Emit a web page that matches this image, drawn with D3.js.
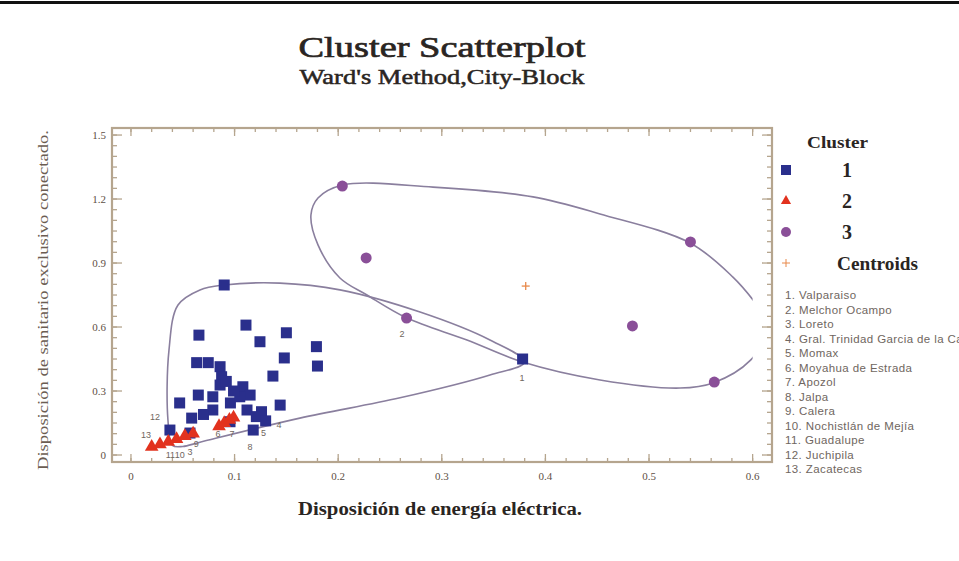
<!DOCTYPE html>
<html><head><meta charset="utf-8">
<script src="https://cdn.jsdelivr.net/npm/d3@7"></script>
<style>body{margin:0;background:#fff}svg{display:block}</style>
</head><body>
<svg id="c" width="959" height="561"></svg>
<script>
// ---- data ----
const cluster1 = [
  [0.378,0.450],[0.090,0.797],[0.111,0.609],[0.150,0.573],[0.0656,0.562],[0.1245,0.531],
  [0.179,0.508],[0.148,0.455],[0.180,0.417],[0.0634,0.433],[0.0746,0.433],[0.086,0.414],
  [0.0875,0.367],[0.137,0.370],[0.086,0.328],[0.108,0.320],[0.065,0.281],[0.079,0.273],
  [0.115,0.281],[0.144,0.234],[0.047,0.244],[0.0586,0.173],[0.079,0.211],[0.096,0.244],
  [0.105,0.273],[0.112,0.211],[0.126,0.203],[0.121,0.180],[0.0956,0.156],[0.118,0.117],
  [0.0376,0.117],[0.057,0.103],[0.099,0.300],[0.092,0.345],[0.070,0.190],[0.130,0.160]
];
const cluster2 = [
  [0.020,0.038],[0.028,0.050],[0.036,0.062],[0.044,0.075],[0.052,0.089],[0.060,0.100],
  [0.085,0.135],[0.090,0.150],[0.095,0.165],[0.099,0.175]
];
const cluster3 = [
  [0.204,1.261],[0.227,0.924],[0.266,0.642],[0.540,0.999],[0.484,0.605],[0.563,0.342]
];
const centroids = [[0.381,0.792]];
const contour1 = [
  [0.040,0.045],[0.0357,0.164],[0.0367,0.492],[0.0454,0.703],[0.0666,0.774],[0.0898,0.797],
  [0.1438,0.806],[0.2017,0.774],[0.279,0.670],[0.3465,0.539],[0.380,0.436],[0.3465,0.375],
  [0.2597,0.268],[0.163,0.173],[0.0666,0.060],[0.050,0.040]
];
const contour3 = [
  [0.2046,1.266],[0.1805,1.205],[0.1737,1.125],[0.1805,0.985],[0.2017,0.830],[0.2278,0.750],
  [0.2664,0.642],[0.3243,0.539],[0.378,0.436],[0.4527,0.352],[0.530,0.314],[0.5618,0.338],
  [0.598,0.445],[0.617,0.609],[0.6004,0.727],[0.581,0.834],[0.5396,0.994],[0.4527,1.130],
  [0.388,1.210],[0.2915,1.256]
];
const pointLabels = [
  ["1",0.3774,0.361],["2",0.2616,0.567],["12",0.0232,0.178],["13",0.0145,0.094],
  ["11",0.038,0.002],["10",0.047,0.002],["3",0.057,0.012],["9",0.063,0.050],
  ["6",0.084,0.098],["7",0.0975,0.098],["8",0.115,0.037],["5",0.128,0.103],["4",0.143,0.140]
];
const xTicks = [0,0.1,0.2,0.3,0.4,0.5,0.6];
const yTicks = [0,0.3,0.6,0.9,1.2,1.5];
const legendItems = ["1","2","3","Centroids"];
const municipios = ["1. Valparaiso","2. Melchor Ocampo","3. Loreto","4. Gral. Trinidad Garcia de la Cadena",
  "5. Momax","6. Moyahua de Estrada","7. Apozol","8. Jalpa","9. Calera","10. Nochistlán de Mejía",
  "11. Guadalupe","12. Juchipila","13. Zacatecas"];

// ---- layout ----
const svg = d3.select("#c");
const L=112,R=772,T=128,B=462;
const x = d3.scaleLinear().domain([-0.0183,0.6187]).range([L,R]);
const y = d3.scaleLinear().domain([-0.0328,1.533]).range([B,T]);
const frameCol="#b5a58e", textCol="#5e5045";
const serif="'Liberation Serif','DejaVu Serif',serif";
const dark="#2a2522";

svg.append("rect").attr("x",0).attr("y",1).attr("width",959).attr("height",3).attr("fill","#111");

// title
svg.append("text").attr("x",442).attr("y",57).attr("text-anchor","middle")
  .attr("font-family",serif).attr("font-size",30).attr("fill",dark)
  .attr("stroke",dark).attr("stroke-width",0.7)
  .attr("textLength",287).attr("lengthAdjust","spacingAndGlyphs").text("Cluster Scatterplot");
svg.append("text").attr("x",442).attr("y",84).attr("text-anchor","middle")
  .attr("font-family",serif).attr("font-size",21).attr("fill",dark)
  .attr("stroke",dark).attr("stroke-width",0.5)
  .attr("textLength",285).attr("lengthAdjust","spacingAndGlyphs").text("Ward's Method,City-Block");

// clip
svg.append("defs").append("clipPath").attr("id","clipx").append("rect")
  .attr("x",L).attr("y",T).attr("width",x(0.6)-L).attr("height",B-T);

// ticks
const g = svg.append("g");
const yMinor = d3.range(0,1.5001,0.05);
const xMinor = d3.range(0,0.6001,0.02);
function tickY(v,len){ g.append("line").attr("x1",L).attr("x2",L+len).attr("y1",y(v)).attr("y2",y(v));
  g.append("line").attr("x1",R).attr("x2",R-len).attr("y1",y(v)).attr("y2",y(v)); }
function tickX(v,len){ g.append("line").attr("y1",B).attr("y2",B-len).attr("x1",x(v)).attr("x2",x(v));
  g.append("line").attr("y1",T).attr("y2",T+len).attr("x1",x(v)).attr("x2",x(v)); }
yMinor.forEach(v=>tickY(v,5));
yTicks.forEach(v=>tickY(v,10));
xMinor.forEach(v=>tickX(v,4));
xTicks.forEach(v=>tickX(v,8));
g.selectAll("line").attr("stroke",frameCol).attr("stroke-width",1.3);
svg.append("rect").attr("x",L).attr("y",T).attr("width",R-L).attr("height",B-T)
  .attr("fill","none").attr("stroke",frameCol).attr("stroke-width",2.2);

svg.selectAll(".yl").data(yTicks).enter().append("text")
  .attr("x",L-6).attr("y",d=>y(d)+4).attr("text-anchor","end")
  .attr("font-family",serif).attr("font-size",11).attr("fill",textCol).text(d=>d===0?"0":d3.format(".1f")(d));
svg.selectAll(".xl").data(xTicks).enter().append("text")
  .attr("x",d=>x(d)).attr("y",B+18).attr("text-anchor","middle")
  .attr("font-family",serif).attr("font-size",11).attr("fill",textCol).text(d=>d===0?"0":d3.format(".1f")(d));

svg.append("text").attr("x",440).attr("y",515).attr("text-anchor","middle")
  .attr("font-family",serif).attr("font-weight","bold").attr("font-size",18).attr("fill",dark)
  .attr("textLength",284).attr("lengthAdjust","spacingAndGlyphs")
  .text("Disposición de energía eléctrica.");
svg.append("text").attr("transform","translate(48,300) rotate(-90)").attr("text-anchor","middle")
  .attr("font-family",serif).attr("font-size",15).attr("fill","#6b5d52")
  .attr("textLength",340).attr("lengthAdjust","spacingAndGlyphs")
  .text("Disposición de sanitario exclusivo conectado.");

// contours
const line = d3.line().x(d=>x(d[0])).y(d=>y(d[1])).curve(d3.curveCatmullRomClosed.alpha(0.5));
const cg = svg.append("g").attr("clip-path","url(#clipx)");
[contour1,contour3].forEach(c=>cg.append("path").attr("d",line(c)).attr("fill","none")
  .attr("stroke","#8a7f9e").attr("stroke-width",1.6));

// points
const blue="#2a2f8c", red="#e2321e", purple="#8a4f98", orange="#e8894a";
svg.selectAll(".c1").data(cluster1).enter().append("rect")
  .attr("x",d=>x(d[0])-5.5).attr("y",d=>y(d[1])-5.5).attr("width",11).attr("height",11).attr("fill",blue);
const tri = d3.symbol().type(d3.symbolTriangle).size(80);
svg.selectAll(".c2").data(cluster2).enter().append("path").attr("d",tri)
  .attr("transform",d=>`translate(${x(d[0])},${y(d[1])})`).attr("fill",red);
svg.selectAll(".c3").data(cluster3).enter().append("circle")
  .attr("cx",d=>x(d[0])).attr("cy",d=>y(d[1])).attr("r",5.5).attr("fill",purple);
svg.selectAll(".ct").data(centroids).enter().append("g")
  .attr("transform",d=>`translate(${x(d[0])},${y(d[1])})`).each(function(){
    const s=d3.select(this);
    s.append("line").attr("x1",-4).attr("x2",4).attr("stroke",orange).attr("stroke-width",1.3);
    s.append("line").attr("y1",-4).attr("y2",4).attr("stroke",orange).attr("stroke-width",1.3);
  });

svg.selectAll(".pl").data(pointLabels).enter().append("text")
  .attr("x",d=>x(d[1])).attr("y",d=>y(d[2])+3).attr("text-anchor","middle")
  .attr("font-family","'Liberation Sans',sans-serif").attr("font-size",9).attr("fill","#6f6660").text(d=>d[0]);

// legend
svg.append("text").attr("x",807).attr("y",148).attr("font-family",serif).attr("font-weight","bold")
  .attr("font-size",17).attr("fill",dark).attr("textLength",61).attr("lengthAdjust","spacingAndGlyphs").text("Cluster");
legendItems.forEach((t,i)=>{
  const cy=170+i*31;
  if(i===0) svg.append("rect").attr("x",781).attr("y",cy-5).attr("width",10).attr("height",10).attr("fill",blue);
  if(i===1) svg.append("path").attr("d",d3.symbol().type(d3.symbolTriangle).size(45)).attr("transform",`translate(786,${cy})`).attr("fill",red);
  if(i===2) svg.append("circle").attr("cx",786).attr("cy",cy).attr("r",5).attr("fill",purple);
  if(i===3){ svg.append("line").attr("x1",782).attr("x2",790).attr("y1",cy).attr("y2",cy).attr("stroke",orange);
             svg.append("line").attr("x1",786).attr("x2",786).attr("y1",cy-4).attr("y2",cy+4).attr("stroke",orange); }
  const tx = svg.append("text").attr("x",i===3?837:842).attr("y",cy+7).attr("font-family",serif).attr("font-weight","bold")
    .attr("font-size",i===3?18:20).attr("fill",dark).text(t);
  if(i===3) tx.attr("textLength",81).attr("lengthAdjust","spacingAndGlyphs");
});
svg.selectAll(".mu").data(municipios).enter().append("text")
  .attr("x",785).attr("y",(d,i)=>299+i*14.5).attr("font-family","'Liberation Sans',sans-serif")
  .attr("font-size",11.5).attr("letter-spacing",0.4).attr("fill","#6f6660").text(d=>d);
</script>
</body></html>
